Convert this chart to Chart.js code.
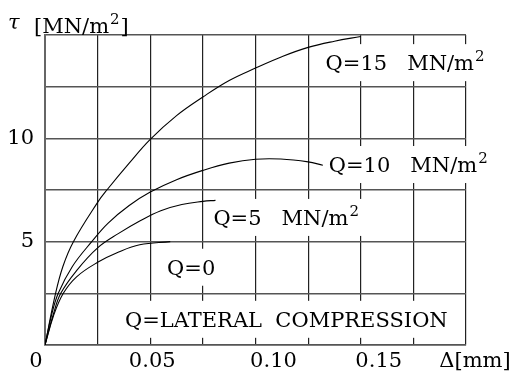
<!DOCTYPE html>
<html>
<head>
<meta charset="utf-8">
<script src="https://cdn.jsdelivr.net/npm/chart.js@4.4.1/dist/chart.umd.min.js"></script>
<style>
  html, body { margin: 0; padding: 0; background: #fff; }
  canvas { display: block; }
</style>
</head>
<body>
<canvas id="shear" width="515" height="374"></canvas>
<script>
// curves: displacement (mm) and shear stress (MN/m2)
const q0Delta = [0, 0.004, 0.0087, 0.015, 0.025, 0.035, 0.045, 0.0595];
const q0Tau   = [0, 1.4, 2.5, 3.3, 4.0, 4.5, 4.85, 5.0];

const q5Delta = [0, 0.004, 0.0075, 0.015, 0.025, 0.035, 0.045, 0.055, 0.065, 0.075, 0.081];
const q5Tau   = [0, 1.5, 2.5, 3.6, 4.7, 5.4, 6.0, 6.5, 6.8, 6.95, 7.0];

const q10Delta = [0, 0.003, 0.0063, 0.013, 0.0222, 0.03, 0.04, 0.05, 0.0625, 0.075, 0.0875, 0.1, 0.112, 0.125, 0.132];
const q10Tau   = [0, 1.4, 2.5, 3.8, 5.0, 5.9, 6.75, 7.4, 8.0, 8.45, 8.8, 8.99, 9.0, 8.86, 8.7];

const q15Delta = [0, 0.0048, 0.0085, 0.0135, 0.025, 0.0294, 0.04, 0.05, 0.0625, 0.075, 0.0875, 0.1, 0.1125, 0.125, 0.1375, 0.15];
const q15Tau   = [0, 2.4, 3.8, 5.0, 6.9, 7.5, 8.8, 9.95, 11.1, 12.0, 12.8, 13.4, 13.95, 14.4, 14.7, 14.93];

// axis ticks
const xTickValues = [0.05, 0.10, 0.15];
const xTickLabels = ['0.05', '0.10', '0.15'];
const yTickValues = [5, 10];
const yTickLabels = ['5', '10'];

// curve captions: [text, superscript, delta, tau]
const captions = [
  ['Q=15   MN/m', '2', 0.1333, 13.3],
  ['Q=10   MN/m', '2', 0.1348, 8.37],
  ['Q=5   MN/m', '2', 0.080, 5.81],
  ['Q=0', '', 0.058, 3.4],
  ['Q=LATERAL  COMPRESSION', '', 0.038, 0.88]
];

const FONT = '"DejaVu Serif", serif';
const SIZE = 21;
const SUP = 15;

function toPoints(xs, ys) {
  return xs.map((x, i) => ({ x: x, y: ys[i] }));
}

function curve(xs, ys) {
  return {
    data: toPoints(xs, ys),
    showLine: true,
    borderColor: '#000',
    borderWidth: 1.1,
    pointRadius: 0,
    tension: 0.4,
    fill: false
  };
}

// draws text plus an optional raised "2", returns total width
function drawSup(ctx, text, sup, x, y) {
  ctx.font = SIZE + 'px ' + FONT;
  ctx.fillText(text, x, y);
  let w = ctx.measureText(text).width;
  if (sup) {
    ctx.font = SUP + 'px ' + FONT;
    ctx.fillText(sup, x + w + 1, y - 9);
    w += ctx.measureText(sup).width + 1;
  }
  return w;
}

function measureSup(ctx, text, sup) {
  ctx.font = SIZE + 'px ' + FONT;
  let w = ctx.measureText(text).width;
  if (sup) {
    ctx.font = SUP + 'px ' + FONT;
    w += ctx.measureText(sup).width + 1;
  }
  return w;
}

const labelsPlugin = {
  id: 'labels',
  beforeDatasetsDraw(chart) {
    const ctx = chart.ctx;
    const xs = chart.scales.x, ys = chart.scales.y;
    ctx.save();
    ctx.textAlign = 'left';
    ctx.textBaseline = 'alphabetic';
    captions.forEach(c => {
      const px = xs.getPixelForValue(c[2]);
      const py = ys.getPixelForValue(c[3]);
      const w = measureSup(ctx, c[0], c[1]);
      ctx.fillStyle = '#fff';
      ctx.fillRect(px - 6, py - 26, w + 12, 37);
      ctx.fillStyle = '#000';
      drawSup(ctx, c[0], c[1], px, py);
    });
    ctx.restore();
  },
  afterDraw(chart) {
    const ctx = chart.ctx;
    const xs = chart.scales.x, ys = chart.scales.y;
    ctx.save();
    ctx.fillStyle = '#000';
    ctx.font = SIZE + 'px ' + FONT;
    ctx.textBaseline = 'middle';
    // x tick labels
    ctx.textAlign = 'center';
    const xOff = [2, 18, 18];
    xTickValues.forEach((v, i) => {
      ctx.fillText(xTickLabels[i], xs.getPixelForValue(v) + xOff[i], 362);
    });
    ctx.fillText('0', xs.getPixelForValue(0) - 9, 362);
    ctx.fillText('\u0394[mm]', xs.getPixelForValue(0.2) + 9, 362);
    // y tick labels
    ctx.textAlign = 'right';
    yTickValues.forEach((v, i) => {
      ctx.fillText(yTickLabels[i], 34, ys.getPixelForValue(v));
    });
    // y axis title
    ctx.textAlign = 'left';
    ctx.textBaseline = 'alphabetic';
    ctx.font = 'italic ' + SIZE + 'px ' + FONT;
    ctx.fillText('\u03c4', 8, 29);
    const w = drawSup(ctx, '[MN/m', '2', 34, 33);
    ctx.font = SIZE + 'px ' + FONT;
    ctx.fillText(']', 34 + w + 1, 33);
    ctx.restore();
  }
};

new Chart(document.getElementById('shear'), {
  type: 'scatter',
  data: {
    datasets: [
      curve(q0Delta, q0Tau),
      curve(q5Delta, q5Tau),
      curve(q10Delta, q10Tau),
      curve(q15Delta, q15Tau)
    ]
  },
  options: {
    responsive: false,
    animation: false,
    devicePixelRatio: 1,
    layout: { padding: { left: 45, right: 49, top: 35, bottom: 29 } },
    plugins: {
      legend: { display: false },
      tooltip: { enabled: false }
    },
    scales: {
      x: {
        type: 'linear',
        min: 0,
        max: 0.2,
        ticks: { display: false, stepSize: 0.025 },
        grid: { color: '#222', lineWidth: 1.2, drawTicks: false },
        border: { color: '#555', width: 1.6 }
      },
      y: {
        min: 0,
        max: 15,
        ticks: { display: false, stepSize: 2.5 },
        grid: { color: '#555', lineWidth: 1.6, drawTicks: false },
        border: { color: '#666', width: 2 }
      }
    }
  },
  plugins: [labelsPlugin]
});
</script>
</body>
</html>
